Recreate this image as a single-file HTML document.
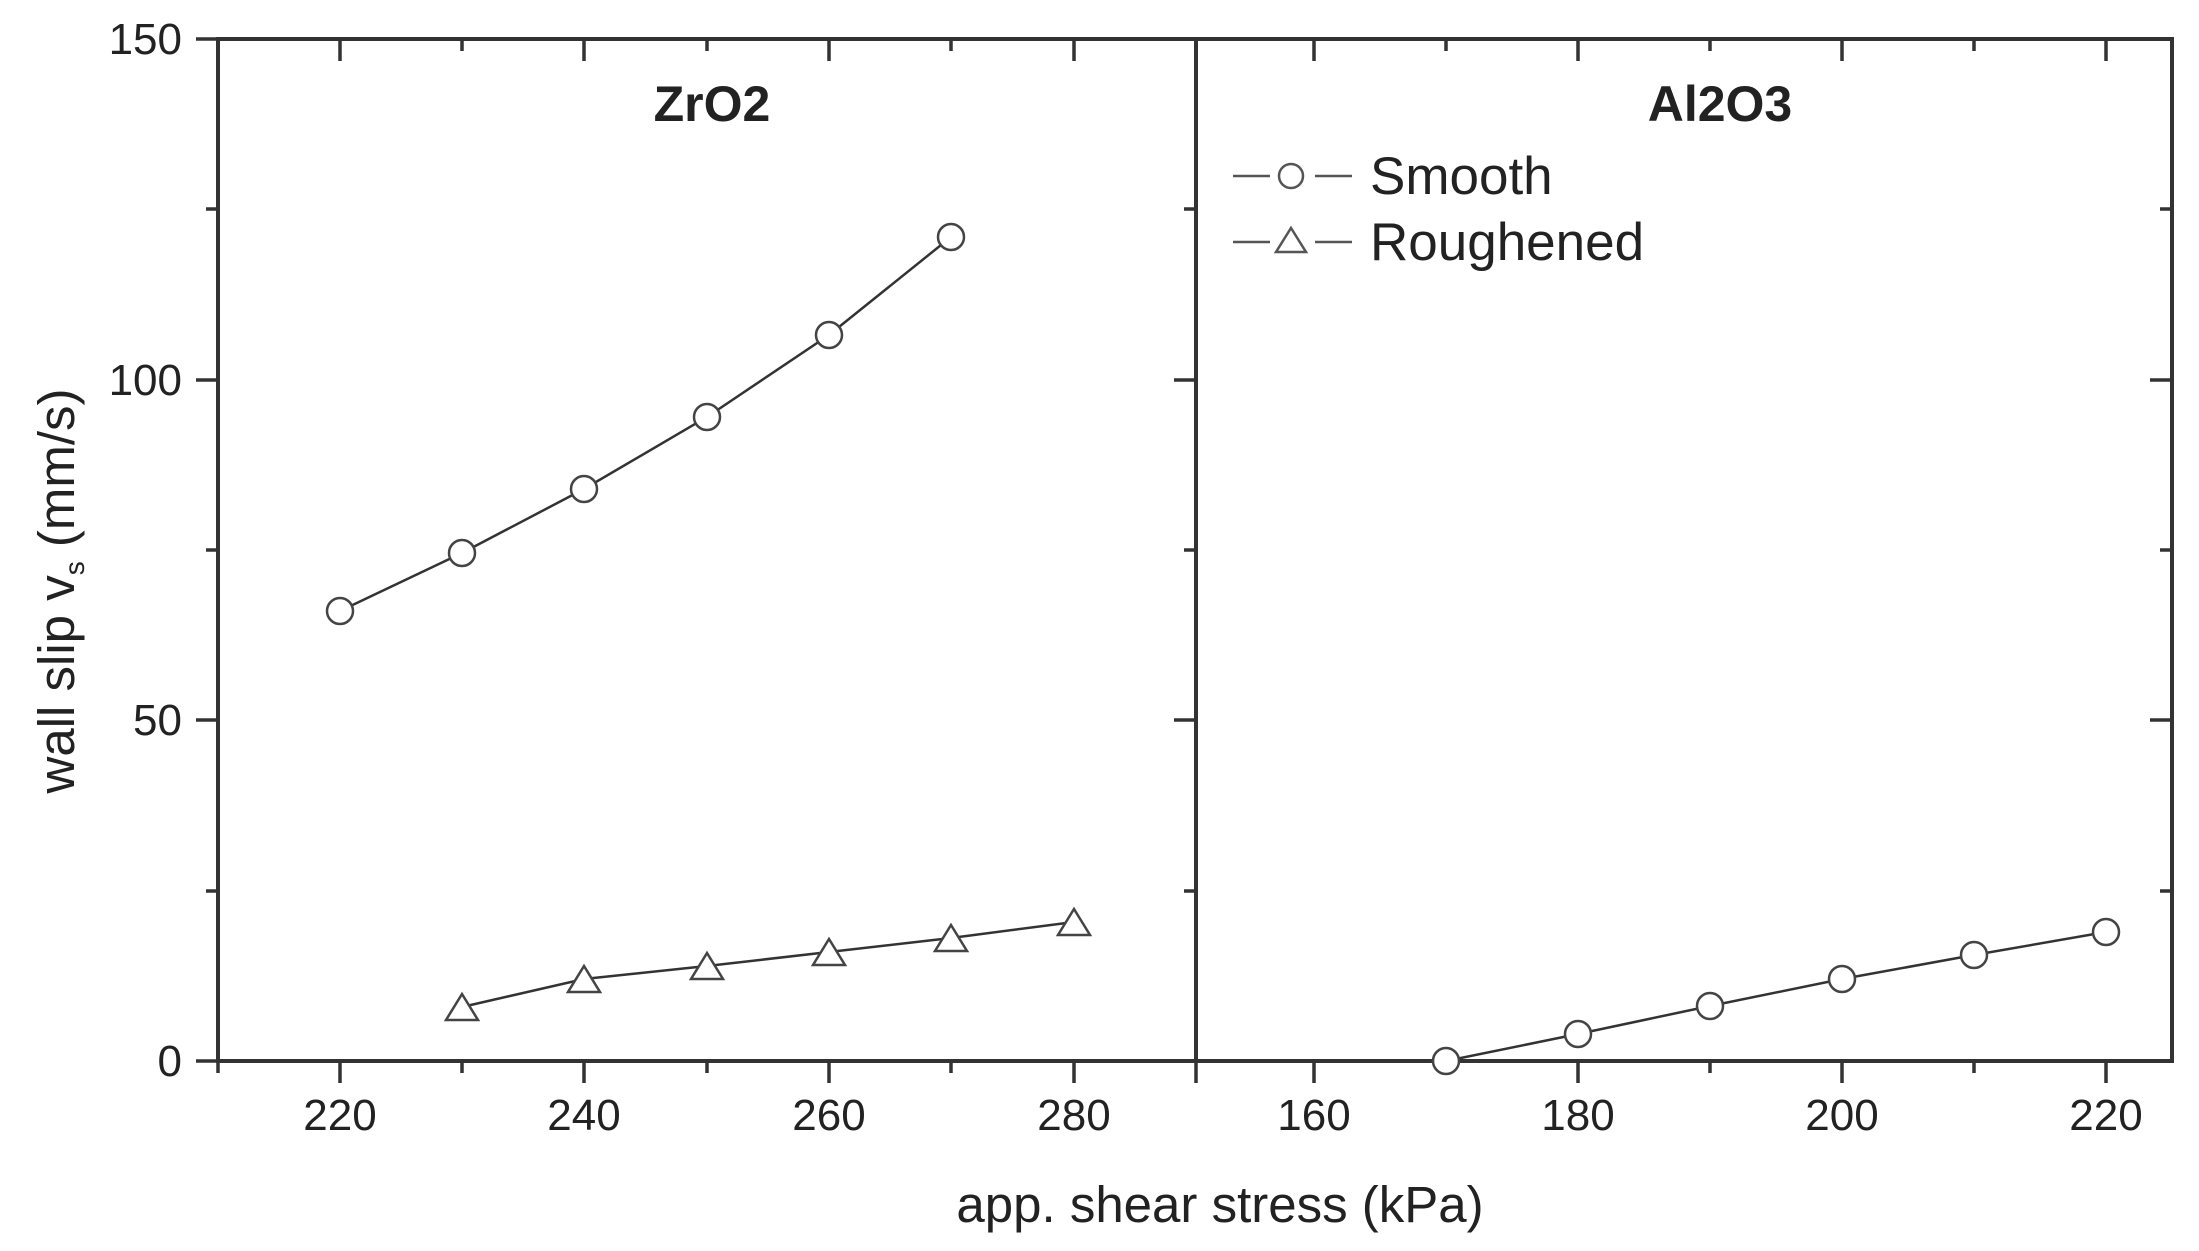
<!DOCTYPE html>
<html><head><meta charset="utf-8"><style>html,body{margin:0;padding:0;background:#fff}svg{display:block}</style></head>
<body>
<svg width="2199" height="1251" viewBox="0 0 2199 1251" xmlns="http://www.w3.org/2000/svg" font-family="Liberation Sans, Arial, sans-serif">
<g stroke="#333" stroke-width="4" fill="none">
<rect x="218" y="39" width="1954" height="1022"/>
<line x1="1196" y1="39" x2="1196" y2="1061"/>
</g>
<g stroke="#333" stroke-width="3.5">
<line x1="196" y1="39" x2="218" y2="39"/><line x1="196" y1="380" x2="218" y2="380"/><line x1="196" y1="720" x2="218" y2="720"/><line x1="196" y1="1061" x2="218" y2="1061"/>
<line x1="206" y1="209" x2="218" y2="209"/><line x1="206" y1="550" x2="218" y2="550"/><line x1="206" y1="891" x2="218" y2="891"/>
<line x1="1174" y1="380" x2="1196" y2="380"/><line x1="1174" y1="720" x2="1196" y2="720"/>
<line x1="1184" y1="209" x2="1196" y2="209"/><line x1="1184" y1="550" x2="1196" y2="550"/><line x1="1184" y1="891" x2="1196" y2="891"/>
<line x1="2150" y1="380" x2="2172" y2="380"/><line x1="2150" y1="720" x2="2172" y2="720"/>
<line x1="2160" y1="209" x2="2172" y2="209"/><line x1="2160" y1="550" x2="2172" y2="550"/><line x1="2160" y1="891" x2="2172" y2="891"/>
<line x1="340" y1="1061" x2="340" y2="1083"/><line x1="584" y1="1061" x2="584" y2="1083"/><line x1="829" y1="1061" x2="829" y2="1083"/><line x1="1074" y1="1061" x2="1074" y2="1083"/>
<line x1="462" y1="1061" x2="462" y2="1073"/><line x1="707" y1="1061" x2="707" y2="1073"/><line x1="951" y1="1061" x2="951" y2="1073"/><line x1="1196" y1="1061" x2="1196" y2="1083"/><line x1="218" y1="1061" x2="218" y2="1073"/>
<line x1="340" y1="39" x2="340" y2="61"/><line x1="584" y1="39" x2="584" y2="61"/><line x1="829" y1="39" x2="829" y2="61"/><line x1="1074" y1="39" x2="1074" y2="61"/>
<line x1="462" y1="39" x2="462" y2="51"/><line x1="707" y1="39" x2="707" y2="51"/><line x1="951" y1="39" x2="951" y2="51"/>
<line x1="1314" y1="1061" x2="1314" y2="1083"/><line x1="1578" y1="1061" x2="1578" y2="1083"/><line x1="1842" y1="1061" x2="1842" y2="1083"/><line x1="2106" y1="1061" x2="2106" y2="1083"/>
<line x1="1446" y1="1061" x2="1446" y2="1073"/><line x1="1710" y1="1061" x2="1710" y2="1073"/><line x1="1974" y1="1061" x2="1974" y2="1073"/>
<line x1="1314" y1="39" x2="1314" y2="61"/><line x1="1578" y1="39" x2="1578" y2="61"/><line x1="1842" y1="39" x2="1842" y2="61"/><line x1="2106" y1="39" x2="2106" y2="61"/>
<line x1="1446" y1="39" x2="1446" y2="51"/><line x1="1710" y1="39" x2="1710" y2="51"/><line x1="1974" y1="39" x2="1974" y2="51"/>
</g>
<g font-size="44" fill="#222" text-anchor="end">
<text x="182" y="1076">0</text><text x="182" y="735">50</text><text x="182" y="395">100</text><text x="182" y="54">150</text>
</g>
<g font-size="44" fill="#222" text-anchor="middle">
<text x="340" y="1130">220</text><text x="584" y="1130">240</text><text x="829" y="1130">260</text><text x="1074" y="1130">280</text>
<text x="1314" y="1130">160</text><text x="1578" y="1130">180</text><text x="1842" y="1130">200</text><text x="2106" y="1130">220</text>
<text x="1220" y="1222" font-size="51">app. shear stress (kPa)</text>
<text x="712" y="121" font-size="50" font-weight="bold">ZrO2</text>
<text x="1720" y="121" font-size="50" font-weight="bold">Al2O3</text>
</g>
<text transform="translate(74,591) rotate(-90)" font-size="51" fill="#222" text-anchor="middle">wall slip v<tspan font-size="28" dy="10">s</tspan><tspan dy="-10"> (mm/s)</tspan></text>
<g stroke="#333" stroke-width="2.5" fill="none">
<polyline points="340,611 462,553 584,489 707,417 829,335 951,237"/>
<polyline points="462,1007 584,979 707,966 829,952 951,938 1074,922"/>
<polyline points="1446,1061 1578,1034 1710,1006 1842,979 1974,955 2106,932"/>
</g>
<g stroke="#444" stroke-width="2.5" fill="#fff">
<circle cx="340" cy="611" r="13"/><circle cx="462" cy="553" r="13"/><circle cx="584" cy="489" r="13"/><circle cx="707" cy="417" r="13"/><circle cx="829" cy="335" r="13"/><circle cx="951" cy="237" r="13"/>
<circle cx="1446" cy="1061" r="13"/><circle cx="1578" cy="1034" r="13"/><circle cx="1710" cy="1006" r="13"/><circle cx="1842" cy="979" r="13"/><circle cx="1974" cy="955" r="13"/><circle cx="2106" cy="932" r="13"/>
<polygon points="462,994 478,1020 446,1020"/><polygon points="584,966 600,992 568,992"/><polygon points="707,953 723,979 691,979"/><polygon points="829,939 845,965 813,965"/><polygon points="951,925 967,951 935,951"/><polygon points="1074,909 1090,935 1058,935"/>
</g>
<g stroke="#555" stroke-width="2.5" fill="#fff">
<line x1="1233" y1="176" x2="1270" y2="176"/><line x1="1315" y1="176" x2="1352" y2="176"/><circle cx="1291" cy="176" r="12"/>
<line x1="1233" y1="242" x2="1270" y2="242"/><line x1="1315" y1="242" x2="1352" y2="242"/><polygon points="1291,228 1306,252 1276,252"/>
</g>
<g font-size="53" fill="#222">
<text x="1370" y="194">Smooth</text><text x="1370" y="260">Roughened</text>
</g>
</svg>
</body></html>
